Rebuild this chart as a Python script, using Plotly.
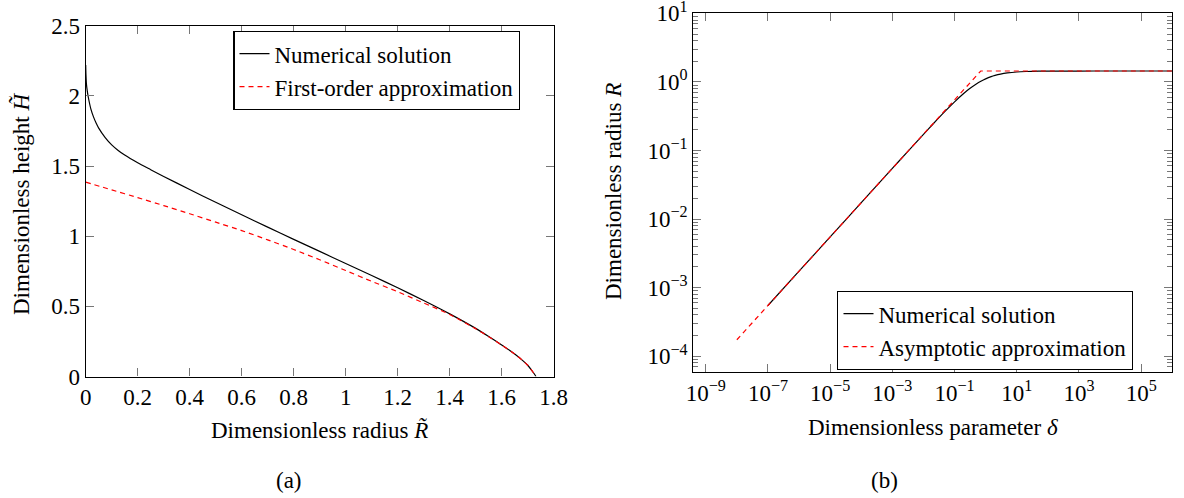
import plotly.graph_objects as go

# ---- Panel (a): film height vs radius ----
radius_num = [0.0, 0.001, 0.003, 0.006, 0.01, 0.02, 0.03, 0.04, 0.05, 0.075, 0.1, 0.125,
              0.15, 0.2, 0.25, 0.3, 0.4, 0.5, 0.6, 0.7, 0.8, 0.9, 1.0, 1.1, 1.2, 1.3, 1.4,
              1.5, 1.55, 1.6, 1.65, 1.68, 1.7, 1.72, 1.732]
height_num = [2.22, 2.15, 2.08, 2.035, 1.99, 1.905, 1.85, 1.806, 1.77, 1.703, 1.651, 1.611,
              1.578, 1.523, 1.474, 1.4255, 1.3325, 1.2415, 1.1525, 1.0645, 0.9775, 0.8915,
              0.8055, 0.7195, 0.6325, 0.5415, 0.4465, 0.343, 0.285, 0.225, 0.16, 0.115,
              0.08, 0.032, 0.0]

radius_first = [0.0, 0.1, 0.2, 0.3, 0.4, 0.5, 0.6, 0.7, 0.8, 0.9, 1.0, 1.1, 1.2, 1.3,
                1.4, 1.5, 1.55, 1.6, 1.65, 1.68, 1.7, 1.72, 1.732]
height_first = [1.385, 1.33, 1.275, 1.218, 1.16, 1.10, 1.04, 0.974, 0.905, 0.832, 0.755,
                0.678, 0.604, 0.524, 0.442, 0.34, 0.284, 0.224, 0.16, 0.115, 0.08, 0.032, 0.0]

# ---- Panel (b): radius vs parameter delta ----
delta_num = [1e-7, 1e-6, 1e-5, 1e-4, 1e-3, 3e-3, 1e-2, 0.02, 0.05, 0.1, 0.2, 0.3, 0.5,
             0.7, 1.0, 1.5, 2.0, 3.0, 5.0, 10.0, 20.0, 50.0, 100.0, 1e3, 1e4, 1e6]
R_num = [5.477e-4, 1.7321e-3, 5.477e-3, 0.017319, 0.054733, 0.09466, 0.17197, 0.24149,
         0.37404, 0.51204, 0.68241, 0.79258, 0.93354, 1.02225, 1.10833, 1.19270, 1.24282,
         1.29983, 1.35157, 1.39472, 1.41788, 1.43235, 1.43728, 1.44175, 1.4422, 1.44225]

delta_asym = [1e-8, 0.6934, 1e6]
R_asym = [1.732e-4, 1.44225, 1.44225]

x_ticks_b = [1e-9, 1e-7, 1e-5, 1e-3, 1e-1, 1e1, 1e3, 1e5]
x_ticktext_b = ["10<sup>−9</sup>", "10<sup>−7</sup>", "10<sup>−5</sup>", "10<sup>−3</sup>",
                "10<sup>−1</sup>", "10<sup>1</sup>", "10<sup>3</sup>", "10<sup>5</sup>"]
y_ticks_b = [1e-4, 1e-3, 1e-2, 1e-1, 1e0, 1e1]
y_ticktext_b = ["10<sup>−4</sup>", "10<sup>−3</sup>", "10<sup>−2</sup>", "10<sup>−1</sup>",
                "10<sup>0</sup>", "10<sup>1</sup>"]

FONT = "Liberation Serif, DejaVu Serif, serif"
FS = 23
W, H = 1184, 498

fig = go.Figure()

fig.add_trace(go.Scatter(x=radius_num, y=height_num, mode="lines",
                         name="Numerical solution", legend="legend",
                         line=dict(color="black", width=1.2, shape="spline", smoothing=0.6),
                         xaxis="x", yaxis="y"))
fig.add_trace(go.Scatter(x=radius_first, y=height_first, mode="lines",
                         name="First-order approximation", legend="legend",
                         line=dict(color="red", width=1.2, dash="5px,4px", shape="spline", smoothing=0.6),
                         xaxis="x", yaxis="y"))

fig.add_trace(go.Scatter(x=delta_num, y=R_num, mode="lines",
                         name="Numerical solution", legend="legend2",
                         line=dict(color="black", width=1.2, shape="spline", smoothing=0.6),
                         xaxis="x2", yaxis="y2"))
fig.add_trace(go.Scatter(x=delta_asym, y=R_asym, mode="lines",
                         name="Asymptotic approximation", legend="legend2",
                         line=dict(color="red", width=1.2, dash="5px,4px"),
                         xaxis="x2", yaxis="y2"))

tickcol = "#777777"
axis_common = dict(showline=True, linecolor="black", linewidth=1.2, mirror="allticks",
                   ticks="inside", tickcolor=tickcol, tickwidth=1, showgrid=False,
                   zeroline=False, automargin=False, ticklabeloverflow="allow",
                   tickfont=dict(family=FONT, size=FS, color="black"))

minor_y = [k * 10.0 ** e for e in range(-5, 1) for k in range(2, 10)]

fig.update_layout(
    width=W, height=H,
    autosize=False,
    margin=dict(l=0, r=0, t=0, b=0, pad=0, autoexpand=False),
    paper_bgcolor="white", plot_bgcolor="white",
    font=dict(family=FONT, size=FS, color="black"),
    xaxis=dict(domain=[85.7 / W, 553.7 / W], range=[0, 1.8],
               tickvals=[0, 0.2, 0.4, 0.6, 0.8, 1, 1.2, 1.4, 1.6, 1.8],
               ticktext=["0", "0.2", "0.4", "0.6", "0.8", "1", "1.2", "1.4", "1.6", "1.8"],
               ticklen=8, ticklabelstandoff=0, anchor="y", **axis_common),
    yaxis=dict(domain=[1 - 376.5 / H, 1 - 25.7 / H], range=[0, 2.5],
               tickvals=[0, 0.5, 1, 1.5, 2, 2.5],
               ticktext=["0", "0.5", "1", "1.5", "2", "2.5"],
               ticklen=8, anchor="x", **axis_common),
    xaxis2=dict(domain=[693.3 / W, 1172.3 / W], type="log", range=[-9.4, 6.0],
                tickvals=x_ticks_b, ticktext=x_ticktext_b,
                ticklen=8, ticklabelstandoff=0, anchor="y2", **axis_common),
    yaxis2=dict(domain=[1 - 372.3 / H, 1 - 13.3 / H], type="log", range=[-4.236, 1.001],
                tickvals=y_ticks_b, ticktext=y_ticktext_b,
                ticklen=8, anchor="x2",
                minor=dict(tickvals=minor_y, ticks="inside", ticklen=5,
                           tickcolor=tickcol, tickwidth=1, showgrid=False),
                **axis_common),
    legend=dict(x=233.3 / W, y=1 - 31 / H, xanchor="left", yanchor="top",
                bordercolor="black", borderwidth=1.2, bgcolor="white",
                font=dict(family=FONT, size=FS), tracegroupgap=0),
    legend2=dict(x=837.3 / W, y=1 - 291 / H, xanchor="left", yanchor="top",
                 bordercolor="black", borderwidth=1.2, bgcolor="white",
                 font=dict(family=FONT, size=FS), tracegroupgap=0),
    showlegend=True,
)

annots = [
    dict(text="Dimensionless radius <i>R̃</i>", x=319.7 / W, y=1 - 430 / H),
    dict(text="Dimensionless parameter <i>δ</i>", x=932.8 / W, y=1 - 427 / H),
    dict(text="(a)", x=289 / W, y=1 - 480 / H),
    dict(text="(b)", x=884 / W, y=1 - 480 / H),
    dict(text="Dimensionless height <i>H̃</i>", x=21 / W, y=1 - 204 / H, textangle=-90),
    dict(text="Dimensionless radius <i>R</i>", x=613 / W, y=1 - 192 / H, textangle=-90),
]
for a in annots:
    fig.add_annotation(xref="paper", yref="paper", showarrow=False,
                       xanchor="center", yanchor="middle",
                       font=dict(family=FONT, size=FS, color="black"), **a)

fig.write_html("out.html")
